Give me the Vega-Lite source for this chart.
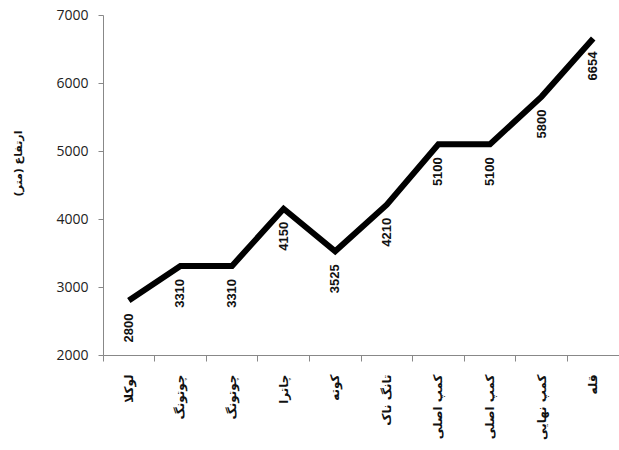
{
  "$schema": "https://vega.github.io/schema/vega-lite/v6.json",
  "autosize": "none",
  "width": 516,
  "height": 340,
  "padding": {"left": 103, "top": 15, "right": 0, "bottom": 95},
  "background": "white",
  "config": {"view": {"stroke": null}},
  "data": {
    "values": [
      {"key": "1|لوکلا", "elev": 2800},
      {"key": "2|چوتونگ", "elev": 3310},
      {"key": "3|چوتونگ", "elev": 3310},
      {"key": "4|چاترا", "elev": 4150},
      {"key": "5|کوته", "elev": 3525},
      {"key": "6|تانگ ناک", "elev": 4210},
      {"key": "7|کمپ اصلی", "elev": 5100},
      {"key": "8|کمپ اصلی", "elev": 5100},
      {"key": "9|کمپ نهایی", "elev": 5800},
      {"key": "10|قله", "elev": 6654}
    ]
  },
  "encoding": {
    "x": {
      "field": "key",
      "type": "nominal",
      "sort": null,
      "bandPosition": 0.5,
      "scale": {"type": "band", "paddingInner": 0, "paddingOuter": 0},
      "axis": {
        "title": null,
        "labelExpr": "split(datum.label, '|')[1]",
        "labelAngle": -90,
        "labelFont": "DejaVu Sans",
        "labelFontSize": 12,
        "labelFontWeight": "bold",
        "labelColor": "#111",
        "labelPadding": 13,
        "bandPosition": 0,
        "domainColor": "#888",
        "tickColor": "#888",
        "tickSize": 6,
        "grid": false
      }
    },
    "y": {
      "field": "elev",
      "type": "quantitative",
      "scale": {"domain": [2000, 7000], "nice": false, "zero": false},
      "axis": {
        "values": [2000, 3000, 4000, 5000, 6000, 7000],
        "format": "d",
        "title": "ارتفاع (متر)",
        "titleFont": "DejaVu Sans",
        "titleFontSize": 11,
        "titleFontWeight": "bold",
        "titleColor": "#111",
        "titleX": -80,
        "titleY": 148,
        "labelFont": "Open Sans",
        "labelFontSize": 14,
        "labelColor": "#222",
        "labelPadding": 10,
        "domainColor": "#888",
        "tickColor": "#888",
        "tickSize": 5,
        "grid": false
      }
    }
  },
  "layer": [
    {
      "mark": {"type": "line", "color": "black", "strokeWidth": 6, "strokeJoin": "miter"}
    },
    {
      "mark": {
        "type": "text",
        "angle": -90,
        "align": "right",
        "baseline": "middle",
        "dx": -13,
        "font": "Liberation Sans",
        "fontSize": 13,
        "fontWeight": "bold",
        "color": "#111"
      },
      "encoding": {"text": {"field": "elev", "type": "quantitative", "format": "d"}}
    }
  ]
}
